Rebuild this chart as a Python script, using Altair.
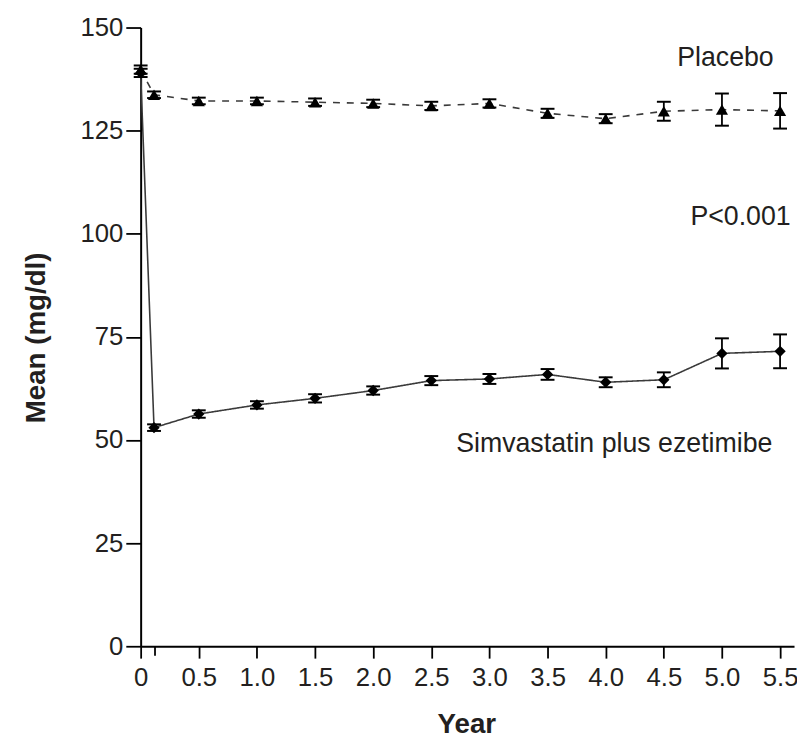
import altair as alt
import pandas as pd

# ---- data ----
years = [0, 0.115, 0.5, 1.0, 1.5, 2.0, 2.5, 3.0, 3.5, 4.0, 4.5, 5.0, 5.5]
placebo_mean = [139.8, 133.7, 132.2, 132.2, 131.9, 131.6, 131.0, 131.6, 129.2, 127.9, 129.7, 130.1, 129.8]
placebo_err = [1.0, 0.8, 0.8, 0.8, 0.9, 0.9, 1.0, 1.0, 1.1, 1.1, 2.3, 3.9, 4.3]
simeze_mean = [139.0, 53.0, 56.3, 58.5, 60.1, 62.0, 64.4, 64.8, 65.9, 64.0, 64.6, 71.0, 71.5]
simeze_err = [1.0, 0.8, 0.9, 0.9, 1.0, 1.0, 1.1, 1.2, 1.3, 1.2, 1.8, 3.65, 4.1]
groups = ["Placebo", "Simvastatin plus ezetimibe"]

x_ticks = [0, 0.115, 0.5, 1.0, 1.5, 2.0, 2.5, 3.0, 3.5, 4.0, 4.5, 5.0, 5.5]
y_ticks = [0, 25, 50, 75, 100, 125, 150]

labels = ["Placebo", "P<0.001", "Simvastatin plus ezetimibe"]
label_x = [5.03, 5.16, 4.074]
label_y = [140.7, 102.2, 47.0]

rows = []
for g, means, errs in [(groups[0], placebo_mean, placebo_err), (groups[1], simeze_mean, simeze_err)]:
    for yr, m, e in zip(years, means, errs):
        rows.append({"group": g, "year": yr, "mean": m, "lo": m - e, "hi": m + e})
df = pd.DataFrame(rows)
ann = pd.DataFrame({"label": labels, "lx": label_x, "ly": label_y})

FONT = "Liberation Sans"
TXT = "#231f20"

xscale = alt.Scale(domain=[0, 5.62], nice=False, zero=False)
yscale = alt.Scale(domain=[0, 150], nice=False)

xaxis = alt.Axis(
    values=x_ticks,
    labelExpr="datum.value == 0 ? '0' : (abs(datum.value - 0.115) < 0.001 ? '' : format(datum.value, '.1f'))",
    title="Year", titleFont=FONT, titleFontSize=28, titleFontWeight="bold", titleColor=TXT,
    titleX=329, titleY=87, titleAlign="center", titleBaseline="alphabetic",
    tickSize={"condition": {"test": "abs(datum.value - 0.115) < 0.001", "value": 9}, "value": 12},
    tickWidth=1.8, tickColor="black", domainWidth=2, domainColor="black",
    labelFont=FONT, labelFontSize=26, labelColor=TXT, labelPadding=7,
    labelFlush=False, labelOverlap=False, grid=False,
)
yaxis = alt.Axis(
    values=y_ticks,
    title="Mean (mg/dl)", titleFont=FONT, titleFontSize=28, titleFontWeight="bold", titleColor=TXT,
    titleX=-97, titleY=313, titleAngle=270, titleAlign="center", titleBaseline="alphabetic",
    tickSize=15, tickWidth=1.8, tickColor="black", domainWidth=2, domainColor="black",
    labelFont=FONT, labelFontSize=26, labelColor=TXT, labelPadding=3,
    labelFlush=False, labelOverlap=False, grid=False,
)

X = alt.X("year:Q", scale=xscale, axis=xaxis)

lines = alt.Chart(df).mark_line(color="#3a3a3a", strokeWidth=1.6).encode(
    x=X,
    y=alt.Y("mean:Q", scale=yscale, axis=yaxis),
    detail="group:N",
    strokeDash=alt.StrokeDash("group:N", scale=alt.Scale(domain=groups, range=[[7, 7], [1, 0]]), legend=None),
)

bars = alt.Chart(df).mark_rule(color="black", strokeWidth=1.8).encode(
    x=X, y=alt.Y("lo:Q", scale=yscale, axis=yaxis), y2="hi:Q"
)
caps_lo = alt.Chart(df).mark_tick(orient="horizontal", size=14, thickness=2, color="black", opacity=1).encode(
    x=X, y=alt.Y("lo:Q", scale=yscale, axis=yaxis)
)
caps_hi = alt.Chart(df).mark_tick(orient="horizontal", size=14, thickness=2, color="black", opacity=1).encode(
    x=X, y=alt.Y("hi:Q", scale=yscale, axis=yaxis)
)
points = alt.Chart(df).mark_point(filled=True, opacity=1, color="black").encode(
    x=X,
    y=alt.Y("mean:Q", scale=yscale, axis=yaxis),
    shape=alt.Shape("group:N", scale=alt.Scale(domain=groups, range=["triangle-up", "diamond"]), legend=None),
    size=alt.Size("group:N", scale=alt.Scale(domain=groups, range=[150, 130]), legend=None),
)
texts = alt.Chart(ann).mark_text(font=FONT, fontSize=27, align="center", baseline="alphabetic", color=TXT).encode(
    x=alt.X("lx:Q", scale=xscale, axis=xaxis),
    y=alt.Y("ly:Q", scale=yscale, axis=yaxis),
    text="label:N",
)

chart = alt.layer(lines, bars, caps_lo, caps_hi, points, texts).properties(
    width=660, height=625,
    padding={"left": 134, "top": 16, "right": 3, "bottom": 93},
    autosize=alt.AutoSizeParams(type="none"),
    background="white",
).configure_view(strokeWidth=0)

chart.save("out.html", embed_options={"renderer": "svg", "actions": False})
